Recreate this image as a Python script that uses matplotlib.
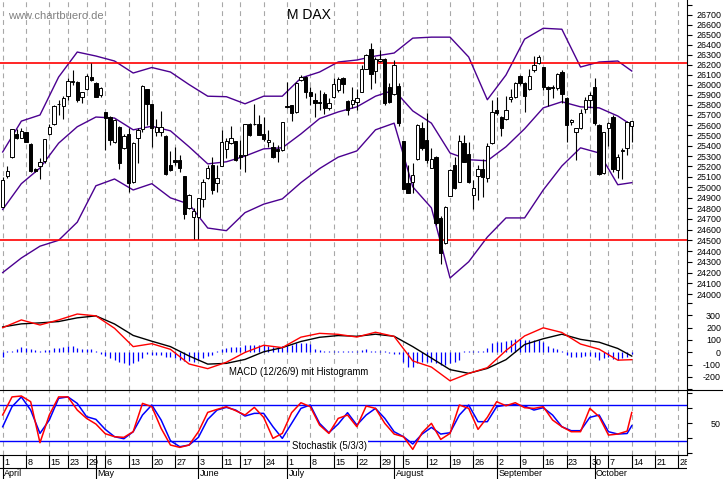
import pandas as pd
import matplotlib
matplotlib.use('Agg')
import matplotlib.pyplot as plt
from matplotlib.lines import Line2D
from matplotlib.ticker import NullLocator

plt.rcParams['font.family'] = ['Liberation Sans', 'DejaVu Sans']
plt.rcParams['lines.scale_dashes'] = False

# Xetra trading days 2019 (chart runs Apr 1 - Oct 14, axis to end of October)
holidays = ['2019-04-19', '2019-04-22', '2019-05-01', '2019-06-10', '2019-10-03']
calendar = pd.bdate_range('2019-04-01', '2019-10-31')
calendar = calendar[~calendar.isin(pd.to_datetime(holidays))]
month_names = ['April', 'May', 'June', 'July', 'August', 'September', 'October']

# MDAX daily candles
opens = [24815, 25110, 25295, 25515, 25480, 25530, 25420, 25175, 25200, 25255,
         25510, 25610, 25805, 25790, 25890, 26025, 26030, 25875, 25960, 26080,
         26015, 25895, 25725, 25685, 25435, 25585, 25375, 25510, 25050, 25480,
         25560, 25955, 25805, 25530, 25535, 25495, 25215, 25265, 25265, 25105,
         24800, 24715, 24715, 24890, 25090, 25215, 25045, 25205, 25365, 25425,
         25445, 25310, 25310, 25610, 25610, 25610, 25515, 25435, 25390, 25365,
         25360, 25790, 25795, 25725, 26045, 26080, 25925, 25850, 25825, 25905,
         25770, 25875, 25945, 26070, 25840, 25805, 25830, 25930, 26160, 26355,
         26135, 26235, 26260, 25980, 25905, 25990, 25445, 25040, 25050, 25270,
         25575, 25455, 25190, 25295, 24705, 24475, 24920, 25215, 25055, 25425,
         25325, 24930, 25110, 25180, 25085, 25425, 25750, 25685, 25665, 25860,
         25880, 26085, 26015, 25955, 26145, 26215, 26175, 25980, 25975, 25970,
         26130, 25870, 25630, 25530, 25570, 25760, 25850, 25980, 25600, 25135,
         25570, 25685, 25165, 25350, 25380, 25595]
highs = [25100, 25200, 25565, 25560, 25570, 25535, 25425, 25190, 25285, 25470,
         25610, 25800, 25850, 25885, 26070, 26145, 26035, 25930, 26110, 26220,
         26030, 25980, 25730, 25690, 25665, 25590, 25515, 25570, 25440, 25570,
         26000, 25960, 25810, 25665, 25740, 25500, 25350, 25390, 25310, 25110,
         24935, 24800, 24900, 25080, 25215, 25295, 25215, 25555, 25475, 25595,
         25450, 25455, 25615, 25620, 25805, 25700, 25685, 25555, 25440, 25410,
         25635, 26030, 25800, 26030, 26100, 26090, 25980, 25915, 25945, 25930,
         25865, 26070, 26080, 26080, 25845, 25980, 25960, 26195, 26310, 26415,
         26280, 26345, 26265, 26015, 26245, 26015, 25450, 25215, 25230, 25610,
         25630, 25715, 25375, 25305, 24725, 24820, 25180, 25295, 25505, 25505,
         25440, 25070, 25215, 25275, 25425, 25850, 25880, 25690, 25890, 25955,
         26030, 26100, 26030, 26160, 26290, 26295, 26180, 25985, 26000, 26120,
         26150, 25875, 25660, 25575, 25760, 25880, 25930, 26070, 25610, 25535,
         25630, 25700, 25325, 25375, 25640, 25645]
lows = [24810, 25085, 25285, 25465, 25475, 25435, 25145, 25145, 25080, 25230,
        25505, 25600, 25700, 25665, 25850, 26000, 25830, 25815, 25945, 26040,
        25875, 25880, 25360, 25410, 25425, 25180, 25370, 24960, 25045, 25230,
        25535, 25600, 25390, 25490, 25490, 25115, 25155, 25215, 25150, 24700,
        24795, 24510, 24510, 24815, 25080, 24935, 24960, 25200, 25280, 25415,
        25255, 25180, 25145, 25490, 25600, 25500, 25445, 25390, 25285, 25240,
        25350, 25770, 25640, 25715, 26035, 25865, 25795, 25685, 25750, 25705,
        25750, 25865, 25930, 25915, 25700, 25765, 25750, 25925, 26155, 25960,
        26015, 26230, 25800, 25815, 25895, 25595, 24980, 24945, 24945, 25265,
        25360, 25230, 25185, 24645, 24275, 24465, 24915, 24985, 25050, 25240,
        25040, 24790, 24880, 24905, 25055, 25415, 25700, 25490, 25650, 25830,
        25865, 26000, 25725, 25945, 26130, 26205, 25945, 25785, 25865, 25945,
        25815, 25440, 25600, 25265, 25565, 25715, 25765, 25600, 25115, 25125,
        25400, 25150, 25085, 25080, 25315, 25440]
closes = [25070, 25155, 25560, 25480, 25545, 25440, 25155, 25155, 25245, 25465,
          25585, 25785, 25810, 25870, 26040, 26035, 25850, 25925, 26085, 26045,
          25880, 25970, 25675, 25455, 25650, 25230, 25495, 25040, 25430, 25555,
          25990, 25805, 25575, 25585, 25585, 25125, 25165, 25240, 25190, 24750,
          24930, 24780, 24895, 25050, 25190, 24970, 25085, 25440, 25445, 25475,
          25265, 25290, 25610, 25505, 25615, 25505, 25465, 25455, 25295, 25345,
          25630, 25775, 25715, 26020, 26080, 25930, 25885, 25820, 25820, 25765,
          25820, 26005, 26055, 26005, 25750, 25850, 25865, 26160, 26300, 26110,
          26260, 26260, 25815, 25830, 26195, 25620, 24985, 24950, 25115, 25600,
          25375, 25265, 25270, 24660, 24385, 24815, 25170, 24990, 25445, 25245,
          25055, 24995, 25180, 25100, 25400, 25725, 25715, 25570, 25750, 25880,
          26015, 26015, 25890, 26085, 26195, 26280, 25980, 25960, 25965, 26105,
          25905, 25600, 25650, 25570, 25715, 25850, 25895, 25620, 25125, 25530,
          25620, 25175, 25295, 25360, 25635, 25640]

# Bollinger bands, read every 4th trading day
band_days = [0, 4, 8, 12, 16, 20, 24, 28, 32, 36, 40, 44, 48, 52, 56, 60, 64, 68,
             72, 76, 80, 84, 88, 92, 96, 100, 104, 108, 112, 116, 120, 124, 128, 132, 135]
band_upper = [25340, 25640, 25700, 26075, 26325, 26285, 26235, 26115, 26170, 26125,
              26000, 25885, 25880, 25810, 25885, 25885, 26065, 26125, 26225, 26245,
              26285, 26315, 26465, 26475, 26475, 26275, 25850, 26095, 26455, 26565,
              26555, 26175, 26225, 26235, 26135]
band_mid = [24790, 25035, 25185, 25425, 25585, 25680, 25670, 25555, 25590, 25545,
            25390, 25225, 25245, 25300, 25370, 25380, 25515, 25665, 25730, 25780,
            25885, 25945, 25740, 25620, 25330, 25265, 25255, 25390, 25565, 25770,
            25830, 25780, 25770, 25690, 25600]
band_lower = [24200, 24335, 24445, 24500, 24670, 25015, 25080, 24975, 25035, 24900,
              24840, 24615, 24590, 24760, 24840, 24890, 25045, 25180, 25290, 25350,
              25555, 25620, 25005, 24805, 24150, 24300, 24530, 24710, 24710, 24975,
              25205, 25380, 25330, 25025, 25045]
levels = [26220, 24500]

# MACD (12/26/9)
macd_line = [200, 263, 222, 263, 311, 296, 195, 46, 70, 24, -95, -133, -81, -1, 57,
             38, 123, 154, 146, 124, 163, 129, -70, -120, -232, -172, -125, 14, 133,
             199, 161, 67, 25, -64, -60]
macd_signal = [206, 231, 239, 250, 280, 296, 230, 137, 90, 46, -30, -96, -90, -58, 4,
               38, 88, 122, 136, 130, 147, 130, 46, -47, -141, -171, -131, -60, 63,
               110, 147, 105, 82, 31, -31]
macd_hist = [-40, 10, 10, 30, 40, 38, 27, 20, 14, 19,
             19, 32, 36, 40, 50, 50, 32, 24, 24, 24,
             10, -15, -30, -49, -62, -75, -89, -103, -89, -70,
             -49, -15, -22, -22, -22, -35, -42, -49, -62, -68,
             -72, -76, -62, -45, -30, -22, 8, 24, 33, 46,
             46, 46, 60, 60, 60, 60, 60, 52, 46, 46,
             50, 52, 60, 73, 76, 79, 68, 27, 18, 11,
             11, 11, 11, 11, 11, 11, 11, 20, 27, 11,
             11, 11, 11, -8, -10, -14, -76, -122, -117, -89,
             -80, -76, -76, -89, -103, -103, -90, -76, -62, 11,
             11, 11, 11, 11, 38, 73, 80, 87, 92, 100,
             106, 106, 100, 100, 100, 100, 87, 52, 33, 24,
             11, -20, -41, -41, -35, -30, -32, -35, -62, -49,
             -35, -57, -62, -50, -41, -14]

# Stochastik (5/3/3), read every 2nd trading day
stoch_days = list(range(0, 135, 2)) + [135]
stoch_k = [64, 94, 95.5, 86, 17.7, 63.8, 94, 94, 72.1, 58.2, 48.8, 32.7, 27.7, 26.6,
           36, 83.2, 77.7, 41.6, 13.8, 9.9, 13.8, 36, 68.2, 73.2, 77.7, 71, 63.8, 76.6,
           59.9, 24.9, 33.2, 67.7, 84.3, 77.7, 47.1, 33.2, 58.2, 63.8, 44.3,
           78.8, 74.9, 49.9, 32.1, 27.7, 6.6, 34.3, 49.9, 23.2, 33.2, 80.5, 74.9, 39.9,
           59.9, 86, 79.3, 84.3, 76, 74.9, 77.7, 55.5, 44.3, 36, 36, 74.9, 61, 30.4,
           32.1, 37, 68]
stoch_d = [44.3, 77.7, 94, 72.1, 33.2, 55.5, 91.6, 94, 83.2, 61, 56.6, 39.9, 27.7, 24.3,
           36, 63.8, 80.5, 55.5, 21, 11, 13.8, 26.6, 56.6, 72.1, 76.6, 72.1, 62.1, 66.6,
           66.6, 44.3, 24.9, 49.9, 74.9, 80.5, 49.9, 34.3, 48.8, 67.7, 47.1,
           63.8, 74.9, 58.2, 36, 27.7, 15.5, 32.1, 43.2, 32.1, 34.3, 63.8, 80.5, 52.7,
           52.7, 77.7, 80.5, 81, 78.8, 72.1, 76, 63.8, 44.3, 37.7, 37.7, 59.9, 63.8, 36,
           32.1, 33, 46]
stoch_levels = [80, 20]

W, H = 723, 479
AX_RIGHT = 687
XLIM = (-0.58, 146.85)
BAND = '#4b0090'
GRID = '#a8a8a8'

fig = plt.figure(figsize=(W / 100, H / 100), dpi=100)


def panel(top, bottom):
    return fig.add_axes([0, 1 - bottom / H, AX_RIGHT / W, (bottom - top) / H])


def right_axis(ax, ticks, labels):
    ax.set_yticks(ticks, labels)
    ax.yaxis.set_minor_locator(NullLocator())
    ax.yaxis.tick_right()
    ax.tick_params(axis='y', direction='out', length=3.6, width=0.8, pad=20.9,
                   labelsize=6.4, colors='black')
    for t in ax.yaxis.get_major_ticks():
        t.label2.set_horizontalalignment('right')
    ax.set_xticks([])
    for side in ('top', 'left', 'bottom'):
        ax.spines[side].set_visible(False)
    ax.spines['right'].set_linewidth(0.8)
    ax.set_xlim(XLIM)


iso_week = calendar.isocalendar().week.to_numpy()
week_pos = [i for i in range(len(calendar)) if i == 0 or iso_week[i] != iso_week[i - 1]]
month_pos = [i for i in range(len(calendar))
             if i == 0 or calendar[i].month != calendar[i - 1].month]
days = list(range(len(closes)))

ax_p = panel(0, 300)
ax_m = panel(300, 390)
ax_s = panel(390, 455)
ax_d = panel(455, 479)

for ax in (ax_p, ax_m, ax_s):
    for pos in week_pos:
        ax.axvline(pos, color=GRID, lw=0.8, ls=(0, (3.5, 2.9)), zorder=0)

# price panel
ax_p.set_yscale('log')
ax_p.set_ylim(23948, 26853)
price_ticks = list(range(24000, 26900, 100))
right_axis(ax_p, price_ticks, [str(t) if t <= 26700 else '' for t in price_ticks])

ax_p.plot(band_days, band_upper, color=BAND, lw=1.0)
ax_p.plot(band_days, band_mid, color=BAND, lw=1.0)
ax_p.plot(band_days, band_lower, color=BAND, lw=1.0)
for lvl in levels:
    ax_p.axhline(lvl, color='red', lw=1.2, zorder=3)

ax_p.vlines(days, lows, highs, color='black', lw=0.8, zorder=4)
body_low = [min(o, c) for o, c in zip(opens, closes)]
body_h = [abs(c - o) for o, c in zip(opens, closes)]
body_col = ['white' if c >= o else 'black' for o, c in zip(opens, closes)]
ax_p.bar(days, body_h, bottom=body_low, width=0.72, color=body_col,
         edgecolor='black', linewidth=0.7, zorder=5)

fig.text(309 / W, 1 - 15 / H, 'M DAX', ha='center', va='center', fontsize=10)
fig.text(8 / W, 1 - 16 / H, 'www.chartbuero.de', ha='left', va='center',
         fontsize=8, color='#808080')

# MACD panel
ax_m.set_ylim(-306.5, 425)
macd_ticks = list(range(-300, 500, 100))
right_axis(ax_m, macd_ticks, [str(t) if -200 <= t <= 300 else '' for t in macd_ticks])
ax_m.vlines(days, 0, macd_hist, color='#0000ff', lw=0.9, zorder=2)
ax_m.plot(band_days, macd_signal, color='black', lw=1.0, zorder=3)
ax_m.plot(band_days, macd_line, color='red', lw=1.0, zorder=3)
fig.text(229 / W, 1 - 371.7 / H, 'MACD (12/26/9) mit Histogramm', ha='left',
         va='center', fontsize=6.9, bbox=dict(fc='white', ec='none', pad=0.5))

# Stochastik panel
ax_s.set_ylim(-2.8, 105.5)
stoch_ticks = [0, 25, 50, 75, 100]
right_axis(ax_s, stoch_ticks, ['', '', '50', '', ''])
ax_s.spines['bottom'].set_visible(True)
ax_s.spines['bottom'].set_linewidth(0.8)
for lvl in stoch_levels:
    ax_s.axhline(lvl, color='#0000ff', lw=1.0, zorder=2)
ax_s.plot(stoch_days, stoch_d, color='#0000ff', lw=1.1, zorder=3)
ax_s.plot(stoch_days, stoch_k, color='red', lw=1.1, zorder=3)
fig.text(291.5 / W, 1 - 445.7 / H, 'Stochastik (5/3/3)', ha='left', va='center',
         fontsize=6.9, bbox=dict(fc='white', ec='none', pad=0.8))

fig.add_artist(Line2D([0, 1], [1 - 390 / H] * 2, color='black', lw=0.8,
                      transform=fig.transFigure))

# date rows
ax_d.set_xlim(XLIM)
ax_d.set_ylim(0, 24)
ax_d.axis('off')
ax_d.axhline(11.5, color='black', lw=0.8)
ax_d.vlines(week_pos, 11.5, 24, color='black', lw=0.8)
ax_d.vlines(month_pos, 0, 24, color='black', lw=0.8)
for pos in week_pos:
    ax_d.text(pos + 0.32, 16.8, str(calendar[pos].day), ha='left', va='center',
              fontsize=6.5, clip_on=True)
for pos, name in zip(month_pos, month_names):
    ax_d.text(pos + 0.32, 5.2, name, ha='left', va='center', fontsize=6.5,
              clip_on=True)

fig.savefig('out.png', dpi=100)
